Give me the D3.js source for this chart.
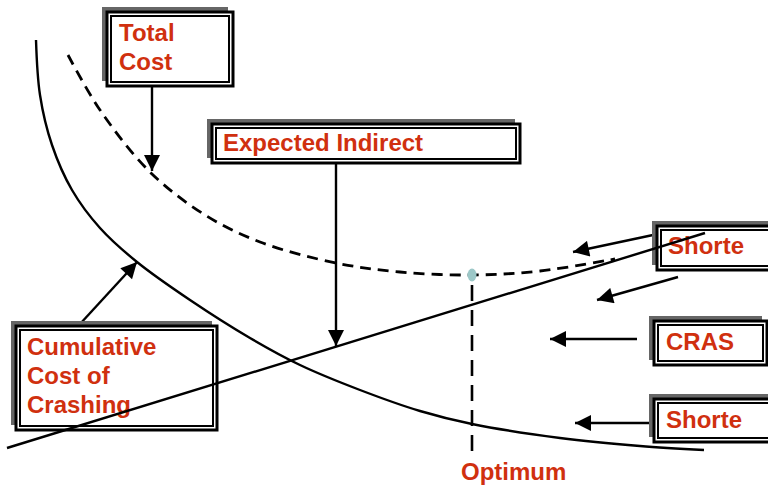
<!DOCTYPE html>
<html>
<head>
<meta charset="utf-8">
<script src="https://cdn.jsdelivr.net/npm/d3@7"></script>
<style>
  body { margin: 0; background: #fff; }
  svg { display: block; }
  .lbl { font-family: "Liberation Sans", Arial, sans-serif; font-weight: bold; font-size: 24px; fill: #d0300f; }
</style>
</head>
<body>
<div id="chart"></div>
<script>
// project duration (x) vs cost (y)
const crashDuration = [36, 40, 52, 72, 100, 137, 190, 250, 300, 360, 420, 472, 560, 640, 704];
const crashCost     = [447, 392, 342, 297, 259, 225, 187, 149, 122, 97, 76, 63, 49, 41, 37];

const totalDuration = [68, 100, 150, 205, 260, 336, 400, 472, 540, 615];
const totalCost     = [432, 377, 315, 272, 245, 224, 215, 212, 216, 228];

const indirectDuration = [7, 705];
const indirectCost     = [39, 254];

const optimumDuration = 472;
const optimumCost = [212, 27];

const labelTexts = [
  ["Total", "Cost"],
  ["Expected Indirect"],
  ["Shorte"],
  ["Cumulative", "Cost of", "Crashing"],
  ["CRAS"],
  ["Shorte"]
];

const width = 768, height = 487;

const x = d3.scaleLinear().domain([0, 768]).range([0, width]);
const y = d3.scaleLinear().domain([0, 487]).range([height, 0]);

const svg = d3.select("#chart")
  .append("svg")
  .attr("width", width)
  .attr("height", height);

svg.append("defs").append("marker")
  .attr("id", "head")
  .attr("viewBox", "0 0 10 10")
  .attr("refX", 10).attr("refY", 5)
  .attr("markerUnits", "userSpaceOnUse")
  .attr("markerWidth", 18).attr("markerHeight", 16)
  .attr("orient", "auto")
  .append("path")
  .attr("d", "M0,0 L10,5 L0,10 Z")
  .attr("fill", "#000");

const line = d3.line()
  .x(d => x(d[0]))
  .y(d => y(d[1]))
  .curve(d3.curveCatmullRom.alpha(0.5));

const straight = d3.line().x(d => x(d[0])).y(d => y(d[1]));

// direct (crashing) cost curve
svg.append("path")
  .datum(d3.zip(crashDuration, crashCost))
  .attr("fill", "none")
  .attr("stroke", "#000")
  .attr("stroke-width", 2.4)
  .attr("d", line);

// total cost, dashed
svg.append("path")
  .datum(d3.zip(totalDuration, totalCost))
  .attr("fill", "none")
  .attr("stroke", "#000")
  .attr("stroke-width", 2.8)
  .attr("stroke-dasharray", "11,7")
  .attr("d", line);

// optimum drop line + dot
svg.append("line")
  .attr("x1", x(optimumDuration)).attr("x2", x(optimumDuration))
  .attr("y1", y(optimumCost[0]) + 10).attr("y2", y(optimumCost[1]))
  .attr("stroke", "#000")
  .attr("stroke-width", 2.6)
  .attr("stroke-dasharray", "16,9");

svg.append("ellipse")
  .attr("cx", x(optimumDuration)).attr("cy", y(optimumCost[0]))
  .attr("rx", 4.5).attr("ry", 6.5)
  .attr("fill", "#9cc8c8");

svg.append("text")
  .attr("class", "lbl")
  .attr("x", 461).attr("y", 480)
  .text("Optimum");

// label boxes
const boxes = [
  {x: 107, y: 12, w: 126, h: 74, tx: 119, ty: 41},
  {x: 212, y: 124, w: 308, h: 39, tx: 223, ty: 151},
  {x: 657, y: 226, w: 130, h: 44, tx: 668, ty: 254},
  {x: 16, y: 326, w: 201, h: 104, tx: 27, ty: 355},
  {x: 654, y: 321, w: 113, h: 44, tx: 666, ty: 350},
  {x: 654, y: 399, w: 130, h: 43, tx: 666, ty: 428}
];

const arrows = [
  [152, 86, 152, 171],
  [336, 163, 336, 346],
  [80, 324, 137, 262],
  [653, 235, 573, 252],
  [678, 277, 597, 300],
  [637, 339, 550, 339],
  [652, 423, 575, 423]
];

arrows.forEach(a => {
  svg.append("line")
    .attr("x1", a[0]).attr("y1", a[1])
    .attr("x2", a[2]).attr("y2", a[3])
    .attr("stroke", "#000")
    .attr("stroke-width", 2.4)
    .attr("marker-end", "url(#head)");
});

boxes.forEach((b, i) => {
  const g = svg.append("g");
  g.append("rect")
    .attr("x", b.x - 5).attr("y", b.y - 5)
    .attr("width", b.w).attr("height", b.h)
    .attr("fill", "#666");
  g.append("rect")
    .attr("x", b.x).attr("y", b.y)
    .attr("width", b.w).attr("height", b.h)
    .attr("fill", "#fff")
    .attr("stroke", "#000")
    .attr("stroke-width", 3);
  g.append("rect")
    .attr("x", b.x + 4).attr("y", b.y + 4)
    .attr("width", b.w - 8).attr("height", b.h - 8)
    .attr("fill", "#fff")
    .attr("stroke", "#000")
    .attr("stroke-width", 2);
  labelTexts[i].forEach((t, j) => {
    g.append("text")
      .attr("class", "lbl")
      .attr("x", b.tx)
      .attr("y", b.ty + j * 29)
      .text(t);
  });
});

// the indirect line runs over the cumulative box and through the top "Shorte" box
svg.append("path")
  .datum(d3.zip(indirectDuration, indirectCost))
  .attr("fill", "none")
  .attr("stroke", "#000")
  .attr("stroke-width", 2.4)
  .attr("d", straight);
</script>
</body>
</html>
